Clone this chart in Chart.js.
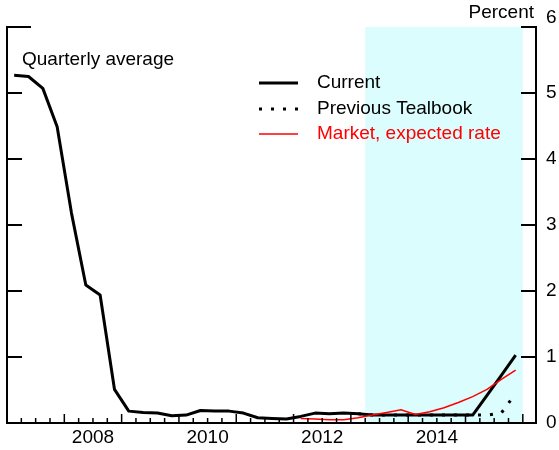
<!DOCTYPE html>
<html>
<head>
<meta charset="utf-8">
<script src="https://cdn.jsdelivr.net/npm/chart.js@4"></script>
<style>
  html, body { margin: 0; padding: 0; background: #ffffff; }
  #wrap { width: 559px; height: 450px; position: relative; }
</style>
</head>
<body>
<div id="wrap"><canvas id="rateChart" width="559" height="450"></canvas></div>
<script>
// Quarterly average federal funds rate, percent
const currentStart = 2007;   // first quarter: 2007Q1
const currentValues = [
  5.27, 5.25, 5.07, 4.49,  3.18, 2.09, 1.94, 0.51,
  0.18, 0.16, 0.15, 0.11,  0.12, 0.19, 0.18, 0.18,
  0.15, 0.08, 0.07, 0.06,  0.10, 0.15, 0.14, 0.15,
  0.14, 0.12, 0.12, 0.12,  0.12, 0.12, 0.12, 0.12,
  0.12, 0.42, 0.72, 1.03
];
const previousStart = 2013;  // 2013Q1
const previousValues = [
  0.14, 0.12, 0.12, 0.12,  0.12, 0.12, 0.12, 0.12,
  0.12, 0.12, 0.15, 0.45
];
const marketStart = 2012;    // 2012Q1
const marketValues = [
  0.07, 0.06, 0.05, 0.05,  0.08, 0.12, 0.16, 0.20,
  0.13, 0.17, 0.23, 0.31,  0.40, 0.51, 0.66, 0.80
];

const yearLabels = ['2008', '2010', '2012', '2014'];
const yTicks = [0, 1, 2, 3, 4, 5, 6];
const shadeFrom = 2013.25;
const shadeTo = 2016.0;

const xMin = 2007, xMax = 2016.23;
const FONT = '19px "Liberation Sans", Arial, sans-serif';

// tiap nilai kuartalan diletakkan di tengah kuartal
function toPoints(startYear, values) {
  return values.map((v, i) => ({ x: startYear + i * 0.25 + 0.125, y: v }));
}

const decorPlugin = {
  id: 'decor',
  beforeDatasetsDraw(chart) {
    const { ctx, chartArea: a, scales: { x, y } } = chart;
    ctx.save();
    ctx.fillStyle = '#dcfdfd';
    const x0 = x.getPixelForValue(shadeFrom), x1 = x.getPixelForValue(shadeTo);
    ctx.fillRect(x0, a.top, x1 - x0, a.bottom - a.top);
    ctx.restore();
  },
  afterDatasetsDraw(chart) {
    const { ctx, chartArea: a, scales: { x, y } } = chart;
    ctx.save();
    ctx.strokeStyle = '#000';
    ctx.lineWidth = 2;
    ctx.lineCap = 'butt';

    // axis frame (no top line)
    ctx.beginPath();
    ctx.moveTo(a.left, a.top - 1);
    ctx.lineTo(a.left, a.bottom);
    ctx.lineTo(a.right, a.bottom);
    ctx.lineTo(a.right, a.top - 1);
    ctx.stroke();

    // y ticks, both sides
    yTicks.forEach(t => {
      const py = y.getPixelForValue(t);
      if (t === 0) return;
      ctx.beginPath();
      ctx.moveTo(a.left, py);
      ctx.lineTo(a.left + (t === 6 ? 24 : 15), py);
      ctx.moveTo(a.right, py);
      ctx.lineTo(a.right - 15, py);
      ctx.stroke();
    });

    // x ticks: quarterly minor, yearly major
    ctx.lineWidth = 1.5;
    for (let q = xMin * 4 + 1; q / 4 <= 2016; q++) {
      const px = x.getPixelForValue(q / 4);
      const len = q % 4 === 0 ? 9 : 5;
      ctx.beginPath();
      ctx.moveTo(px, a.bottom);
      ctx.lineTo(px, a.bottom - len);
      ctx.stroke();
    }

    // text
    ctx.fillStyle = '#000';
    ctx.font = FONT;
    ctx.textBaseline = 'middle';
    ctx.textAlign = 'center';
    yearLabels.forEach(l => {
      ctx.fillText(l, x.getPixelForValue(+l + 0.5), a.bottom + 15);
    });
    ctx.textAlign = 'left';
    yTicks.forEach(t => {
      const py = y.getPixelForValue(t);
      ctx.fillText(String(t), a.right + 10, t === 6 ? py - 9 : py);
    });
    ctx.textAlign = 'right';
    ctx.fillText('Percent', a.right - 2, 13);
    ctx.textAlign = 'left';
    ctx.fillText('Quarterly average', 22, 60);

    // legend
    const legend = [
      { text: 'Current', color: '#000', width: 3, dash: [] , ty: 83 },
      { text: 'Previous Tealbook', color: '#000', width: 3, dash: [3, 9], ty: 109 },
      { text: 'Market, expected rate', color: '#ff0000', width: 1.5, dash: [], ty: 134 }
    ];
    legend.forEach(it => {
      ctx.strokeStyle = it.color;
      ctx.lineWidth = it.width;
      ctx.setLineDash(it.dash);
      ctx.beginPath();
      ctx.moveTo(259, it.ty);
      ctx.lineTo(298, it.ty);
      ctx.stroke();
      ctx.setLineDash([]);
      ctx.fillStyle = it.color;
      ctx.fillText(it.text, 317, it.ty);
    });
    ctx.restore();
  }
};

const ctx = document.getElementById('rateChart').getContext('2d');
new Chart(ctx, {
  type: 'line',
  data: {
    datasets: [
      {
        label: 'Market, expected rate',
        data: toPoints(marketStart, marketValues),
        borderColor: '#ff0000',
        borderWidth: 1.5,
        pointRadius: 0,
        tension: 0,
      },
      {
        label: 'Previous Tealbook',
        data: toPoints(previousStart, previousValues),
        borderColor: '#000000',
        borderWidth: 3,
        borderDash: [3, 9],
        pointRadius: 0,
        tension: 0,
      },
      {
        label: 'Current',
        data: toPoints(currentStart, currentValues),
        borderColor: '#000000',
        borderWidth: 3,
        pointRadius: 0,
        tension: 0,
        borderJoinStyle: 'round',
      },
    ],
  },
  options: {
    responsive: false,
    animation: false,
    layout: { padding: { left: 7, right: 23, top: 27, bottom: 27 } },
    scales: {
      x: { type: 'linear', min: xMin, max: xMax, display: false },
      y: { min: 0, max: 6, display: false },
    },
    plugins: {
      legend: { display: false },
      tooltip: { enabled: false },
    },
  },
  plugins: [decorPlugin],
});
</script>
</body>
</html>
